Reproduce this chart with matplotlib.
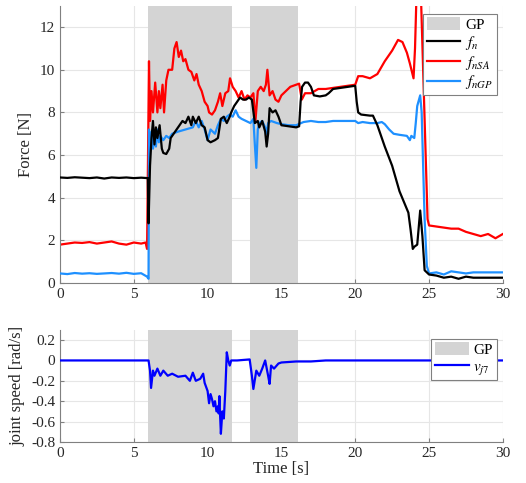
import matplotlib
matplotlib.use("Agg")
import matplotlib.pyplot as plt
from matplotlib.patches import Patch

plt.rcParams['font.family'] = ['Liberation Serif', 'DejaVu Serif']
plt.rcParams['mathtext.fontset'] = 'stix'

# GP shaded intervals (s)
gp_intervals = [(5.98, 11.62), (12.84, 16.12)]

# f_n (black)
t_fn = [0, 0.5, 1, 1.5, 2, 2.5, 3, 3.5, 4, 4.5, 5, 5.5, 5.95, 6.0, 6.1, 6.2, 6.3, 6.4, 6.5, 6.6, 6.75,
        6.9, 7.0, 7.2, 7.4, 7.5, 7.7, 8.0, 8.3, 8.5, 8.7, 8.9, 9.0, 9.2, 9.4, 9.6, 9.8, 10.0, 10.2,
        10.5, 10.7, 10.9, 11.1, 11.3, 11.5, 11.6, 11.8, 12.0, 12.2, 12.4, 12.6, 12.8, 13.0, 13.2,
        13.4, 13.5, 13.7, 13.9, 14.0, 14.1, 14.2, 14.4, 14.6, 14.8, 15.0, 15.5, 16.0, 16.2, 16.3,
        16.4, 16.6, 16.8, 17.0, 17.2, 17.6, 18.0, 18.2, 18.5, 19.0, 19.5, 20.0, 20.1, 20.2, 20.4,
        21.0, 21.2, 21.5, 22.0, 22.5, 23.0, 23.3, 23.6, 23.75, 23.9, 24.0, 24.2, 24.4, 24.55, 24.7,
        25.0, 25.5, 26.0, 26.5, 27.0, 27.5, 28.0, 29.0, 30.0]
fn = [4.95, 4.93, 4.96, 4.94, 4.92, 4.95, 4.9, 4.95, 4.93, 4.95, 4.92, 4.94, 4.92, 2.8, 5.5, 6.8,
      7.6, 6.5, 7.3, 6.8, 7.4, 6.3, 6.1, 6.05, 6.3, 6.8, 7.0, 7.3, 7.6, 7.5, 7.8, 7.4, 7.8, 7.5,
      7.8, 7.4, 7.3, 6.7, 6.6, 6.7, 6.8, 7.7, 7.8, 7.5, 7.8, 8.0, 8.3, 8.5, 8.7, 8.6, 8.6, 8.7, 8.6,
      7.5, 7.6, 7.3, 7.6, 7.1, 6.4, 7.0, 8.2, 8.0, 8.1, 7.8, 7.4, 7.35, 7.3, 7.35, 8.5, 9.2, 9.4,
      9.4, 9.2, 8.8, 8.75, 8.8, 8.9, 9.1, 9.15, 9.2, 9.25, 8.5, 8.0, 7.9, 7.85, 7.85, 7.4, 6.4,
      5.5, 4.3, 3.8, 3.3, 2.5, 1.6, 1.7, 1.8, 3.4, 2.2, 0.6, 0.4, 0.35, 0.25, 0.3, 0.2, 0.3, 0.25,
      0.25, 0.25]

# f_nSA (red)
t_fsa = [0, 0.5, 1, 1.5, 2, 2.5, 3, 3.5, 4, 4.5, 5, 5.5, 5.8, 5.9, 6.03, 6.1, 6.2, 6.3, 6.45,
         6.6, 6.7, 6.8, 6.95, 7.05, 7.2, 7.35, 7.6, 7.75, 7.9, 8.05, 8.2, 8.35, 8.5, 8.7, 8.9,
         9.1, 9.25, 9.4, 9.6, 9.8, 10.0, 10.1, 10.3, 10.5, 10.7, 10.85, 11.0, 11.2, 11.4, 11.52,
         11.7, 11.9, 12.1, 12.3, 12.5, 12.7, 12.9, 13.1, 13.24, 13.4, 13.6, 13.8, 13.95, 14.05,
         14.2, 14.4, 14.6, 14.8, 15.0, 15.3, 15.6, 16.0, 16.2, 16.38, 16.6, 17.0, 17.5, 18.0,
         18.5, 19.0, 19.5, 20.0, 20.2, 20.5, 21.0, 21.5, 22.0, 22.5, 22.9, 23.2, 23.5, 23.7,
         23.95, 24.05, 24.15, 24.45, 24.9, 25.0, 25.5, 26.0, 26.5, 27.0, 27.5, 28.0, 28.5,
         29.0, 29.5, 30.0]
fsa = [1.8, 1.85, 1.9, 1.88, 1.92, 1.85, 1.9, 1.95, 1.85, 1.8, 1.9, 1.85, 1.9, 1.6, 10.4, 7.6,
       9.0, 8.0, 9.4, 8.0, 9.0, 8.2, 9.3, 8.0, 9.5, 10.0, 10.0, 11.0, 11.3, 10.6, 10.9, 10.4,
       10.5, 10.0, 9.9, 9.5, 9.8, 9.3, 9.0, 8.5, 8.3, 8.0, 7.9, 8.1, 8.5, 8.9, 8.3, 8.9, 9.0,
       9.6, 9.2, 9.0, 8.7, 9.0, 8.6, 8.8, 8.7, 8.9, 7.6, 9.0, 9.2, 9.0, 9.3, 10.0, 8.8, 9.0,
       8.6, 8.5, 8.8, 9.0, 9.2, 9.3, 9.35, 8.6, 8.9, 8.9, 9.1, 9.1, 9.15, 9.2, 9.25, 9.3, 9.7,
       9.7, 9.6, 9.8, 10.4, 10.9, 11.4, 11.3, 10.8, 10.3, 9.6, 11.0, 13.5, 13.5, 3.0, 2.7, 2.65,
       2.6, 2.55, 2.55, 2.4, 2.3, 2.2, 2.3, 2.1, 2.3]

# f_nGP (light blue)
t_fgp = [0, 0.5, 1, 1.5, 2, 2.5, 3, 3.5, 4, 4.5, 5, 5.5, 5.9, 6.0, 6.03, 6.1, 6.2, 6.3, 6.4, 6.5,
         6.6, 6.7, 6.8, 7.0, 7.2, 7.4, 7.6, 8.0, 8.5, 9.0, 9.2, 9.4, 9.6, 9.8, 10.0, 10.2, 10.5,
         10.7, 10.9, 11.1, 11.3, 11.5, 11.7, 11.9, 12.1, 12.3, 12.6, 12.9, 13.1, 13.2, 13.3, 13.4,
         13.5, 13.7, 13.9, 14.0, 14.1, 14.3, 14.5, 14.7, 15.0, 15.5, 16.0, 16.5, 17.0, 17.5, 18.0,
         18.5, 19.0, 19.5, 20.0, 20.2, 20.5, 21.0, 21.5, 21.8, 22.0, 22.3, 22.6, 23.0, 23.5, 23.7,
         23.8, 24.0, 24.1, 24.2, 24.4, 24.5, 24.7, 24.85, 25.0, 25.5, 26.0, 26.5, 27.0, 27.5,
         28.0, 29.0, 30.0]
fgp = [0.45, 0.42, 0.47, 0.44, 0.46, 0.43, 0.45, 0.47, 0.44, 0.48, 0.43, 0.46, 0.3, 0.2, 7.2,
       6.2, 7.1, 6.3, 6.8, 6.4, 7.2, 6.6, 6.9, 6.7, 6.9, 6.8, 7.0, 7.1, 7.2, 7.3, 7.6, 7.3, 7.6,
       7.2, 6.7, 7.2, 7.0, 7.4, 7.7, 7.6, 7.8, 7.9, 7.8, 8.1, 7.8, 7.7, 7.6, 7.5, 7.7, 6.5, 5.4,
       7.2, 7.5, 7.6, 7.3, 7.0, 7.5, 7.6, 7.55, 7.5, 7.45, 7.4, 7.4, 7.55, 7.6, 7.55, 7.55, 7.6,
       7.6, 7.6, 7.6, 7.5, 7.55, 7.5, 7.5, 7.55, 7.45, 7.2, 7.0, 6.95, 6.9, 6.7, 6.9, 6.8, 7.5,
       8.3, 8.8, 8.0, 3.0, 0.8, 0.45, 0.5, 0.4, 0.55, 0.5, 0.45, 0.5, 0.5, 0.5]

# v_j7 (blue)
t_v = [0, 6.0, 6.1, 6.17, 6.3, 6.4, 6.6, 6.8, 7.0, 7.3, 7.6, 8.0, 8.5, 8.8, 9.0, 9.2, 9.5, 9.7,
       9.8, 10.0, 10.1, 10.2, 10.3, 10.4, 10.5, 10.6, 10.7, 10.75, 10.8, 10.85, 10.9, 11.0, 11.1,
       11.2, 11.3, 11.4, 11.5, 11.6, 12.0, 12.85, 13.0, 13.1, 13.3, 13.5, 13.7, 13.9, 14.1, 14.2,
       14.3, 14.5, 14.8, 15.0, 16.0, 17.0, 18.0, 30.0]
vj7 = [0.0, 0.0, -0.1, -0.27, -0.1, -0.15, -0.08, -0.15, -0.1, -0.15, -0.13, -0.16, -0.15, -0.2,
       -0.12, -0.2, -0.18, -0.13, -0.22, -0.3, -0.42, -0.33, -0.38, -0.45, -0.4, -0.5, -0.45,
       -0.52, -0.35, -0.55, -0.72, -0.5, -0.57, -0.3, 0.08, 0.0, -0.05, 0.0, 0.0, 0.01, -0.15,
       -0.28, -0.1, -0.15, -0.08, 0.0, -0.15, -0.23, -0.05, -0.08, -0.03, -0.02, -0.01, -0.01,
       0.0, 0.0]

fig = plt.figure(figsize=(5.26, 4.83), dpi=100)
ax1 = fig.add_axes([0.114, 0.414, 0.842, 0.574])
ax2 = fig.add_axes([0.114, 0.085, 0.842, 0.232])

shade = '#d4d4d4'
spine_c = '#808080'


def style(ax):
    for s in ['top', 'right']:
        ax.spines[s].set_visible(False)
    for s in ['left', 'bottom']:
        ax.spines[s].set_color(spine_c)
    ax.grid(True, color='#e6e6e6', linewidth=0.8)
    ax.set_axisbelow(True)
    ax.tick_params(direction='in', length=3, color=spine_c, labelsize=11, labelcolor='#262626')
    ax.set_xlim(0, 30)
    ax.set_xticks([0, 5, 10, 15, 20, 25, 30])


for ax in (ax1, ax2):
    style(ax)
    for (a, b) in gp_intervals:
        ax.axvspan(a, b, color=shade, lw=0, zorder=1)

lw = 1.6
ax1.plot(t_fn, fn, color='black', lw=lw, zorder=3)
ax1.plot(t_fsa, fsa, color='#ff0000', lw=lw, zorder=2.5)
ax1.plot(t_fgp, fgp, color='#1e90ff', lw=lw, zorder=2.8)
ax1.set_ylim(0, 13)
ax1.set_yticks([0, 2, 4, 6, 8, 10, 12])
ax1.set_ylabel('Force [N]', fontsize=12, color='#262626')

leg_kw = dict(fontsize=11, fancybox=False, framealpha=1, edgecolor='#808080',
              handlelength=2.2, handleheight=0.9, handletextpad=0.3, borderpad=0.25,
              labelspacing=0.12, borderaxespad=0.2)

h1 = [Patch(facecolor=shade, edgecolor='none'),
      plt.Line2D([], [], color='black', lw=lw),
      plt.Line2D([], [], color='#ff0000', lw=lw),
      plt.Line2D([], [], color='#1e90ff', lw=lw)]
leg1 = ax1.legend(h1, ['GP', '$f_n$', '$f_{nSA}$', '$f_{nGP}$'], loc='upper right',
                  bbox_to_anchor=(0.993, 0.983), **leg_kw)
leg1.get_frame().set_linewidth(0.8)

ax2.plot(t_v, vj7, color='#0000ff', lw=lw, zorder=3)
ax2.set_ylim(-0.8, 0.3)
ax2.set_yticks([-0.8, -0.6, -0.4, -0.2, 0, 0.2])
ax2.set_yticklabels(['-0.8', '-0.6', '-0.4', '-0.2', '0', '0.2'])
ax2.set_ylabel('joint speed [rad/s]', fontsize=12, color='#262626')
ax2.set_xlabel('Time [s]', fontsize=12, color='#262626', labelpad=1)
h2 = [Patch(facecolor=shade, edgecolor='none'),
      plt.Line2D([], [], color='#0000ff', lw=lw)]
leg2 = ax2.legend(h2, ['GP', '$v_{j7}$'], loc='upper right', bbox_to_anchor=(0.993, 0.95),
                  **leg_kw)
leg2.get_frame().set_linewidth(0.8)

fig.savefig('out.png', dpi=100)
